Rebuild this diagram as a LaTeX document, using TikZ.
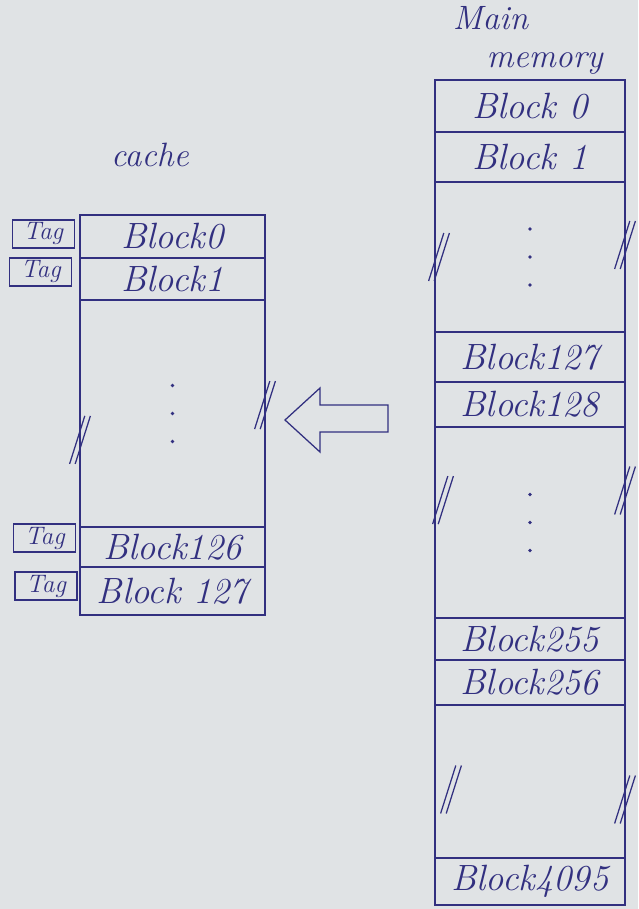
\documentclass[tikz,border=0pt]{standalone}
\usepackage{fontspec}
\usepackage{tikz}
\usetikzlibrary{positioning, calc}
\definecolor{Ink}{RGB}{50, 48, 128}
\definecolor{Paper}{RGB}{224, 227, 229}

\begin{document}
\begin{tikzpicture}[
    row/.style={
      rectangle, draw=Ink, line width=0.9pt, outer sep=0pt, inner sep=0pt,
      text=Ink, font=\fontsize{26}{30}\selectfont\itshape
    },
    cacherow/.style={row, minimum width=4.625cm},
    memrow/.style={row, minimum width=4.75cm},
    tagbox/.style={
      rectangle, draw=Ink, line width=0.9pt, inner sep=0pt,
      minimum width=1.55cm, minimum height=0.7cm,
      text=Ink, font=\fontsize{18}{20}\selectfont\itshape
    },
    title/.style={text=Ink, font=\fontsize{24}{27}\selectfont\itshape, align=left},
    brk/.pic={
      \draw[Ink, line width=0.9pt] (-0.26,-0.6) -- (0.12,0.6);
      \draw[Ink, line width=0.9pt] (-0.12,-0.6) -- (0.26,0.6);
    }
  ]
    % page
    \fill[Paper] (0,0) rectangle (15.95,-22.725);
    \useasboundingbox (0,0) rectangle (15.95,-22.725);

    % cache
    \node[title] (ctitle) at (3.75,-3.875) {cache};
    \node[cacherow, minimum height=1.075cm] (c0) at (4.3125,-5.9125) {Block0};
    \node[cacherow, minimum height=1.05cm, below=0pt of c0] (c1) {Block1};
    \node[cacherow, minimum height=5.675cm, below=0pt of c1] (cgap) {};
    \node[cacherow, minimum height=1.0cm, below=0pt of cgap] (c126) {Block126};
    \node[cacherow, minimum height=1.2cm, below=0pt of c126] (c127) {Block 127};

    \node[tagbox] (t0)   at (1.08,-5.85)  {Tag};
    \node[tagbox] (t1)   at (1.02,-6.8)   {Tag};
    \node[tagbox] (t126) at (1.12,-13.45) {Tag};
    \node[tagbox] (t127) at (1.15,-14.65) {Tag};

    \pic at ($(cgap.west)+(0,-0.66)$) {brk};
    \pic at ($(cgap.east)+(0,0.21)$) {brk};

    % main memory
    \node[title, anchor=west] (mtitle) at (11.2,-1.0) {Main\\\hspace{1.0em}memory};
    \node[memrow, minimum height=1.3cm] (m0) at (13.25,-2.65) {Block 0};
    \node[memrow, minimum height=1.25cm, below=0pt of m0] (m1) {Block 1};
    \node[memrow, minimum height=3.75cm, below=0pt of m1] (mgap1) {};
    \node[memrow, minimum height=1.25cm, below=0pt of mgap1] (m127) {Block127};
    \node[memrow, minimum height=1.125cm, below=0pt of m127] (m128) {Block128};
    \node[memrow, minimum height=4.775cm, below=0pt of m128] (mgap2) {};
    \node[memrow, minimum height=1.05cm, below=0pt of mgap2] (m255) {Block255};
    \node[memrow, minimum height=1.125cm, below=0pt of m255] (m256) {Block256};
    \node[memrow, minimum height=3.825cm, below=0pt of m256] (mgap3) {};
    \node[memrow, minimum height=1.175cm, below=0pt of mgap3] (m4095) {Block4095};

    \pic at ($(mgap1.west)+(0.1,0)$)    {brk};
    \pic at ($(mgap1.east)+(0,0.3)$)    {brk};
    \pic at ($(mgap2.west)+(0.2,0.56)$) {brk};
    \pic at ($(mgap2.east)+(0,0.8)$)    {brk};
    \pic at ($(mgap3.west)+(0.4,-0.2)$) {brk};
    \pic at ($(mgap3.east)+(0,-0.45)$)  {brk};

    % dots in the gaps
    \foreach \g in {cgap, mgap1, mgap2}
      \foreach \dy in {-0.7, 0, 0.7}
        \fill[Ink] ($(\g)+(0,\dy)$) circle (1.3pt);

    % hollow arrow, memory to cache
    \coordinate (tip) at (7.125,-10.5);
    \draw[Ink, line width=0.9pt] (tip) -- ++(0.875,0.8) -- ++(0,-0.425)
      -- ++(1.7,0) -- ++(0,-0.675) -- ++(-1.7,0) -- ++(0,-0.5) -- cycle;
  \end{tikzpicture}
\end{document}
